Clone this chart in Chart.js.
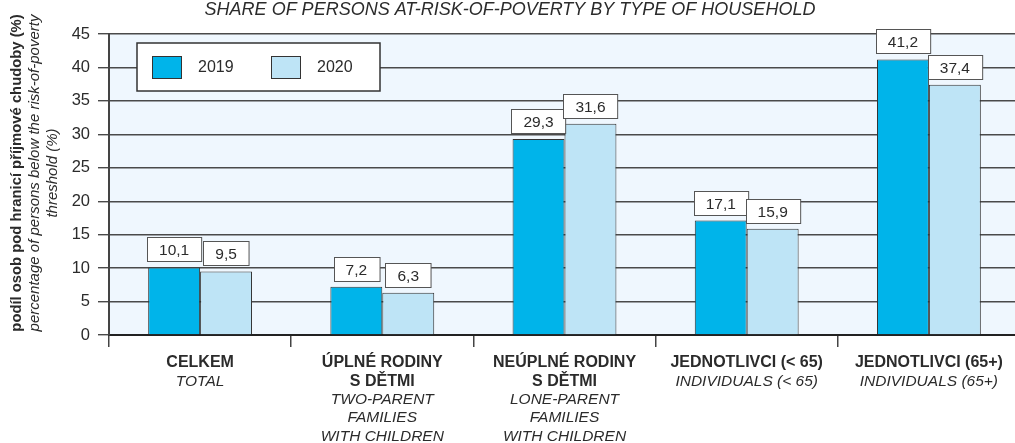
<!DOCTYPE html>
<html>
<head>
<meta charset="utf-8">
<script src="https://cdn.jsdelivr.net/npm/chart.js@4/dist/chart.umd.min.js"></script>
<style>
  html, body { margin: 0; padding: 0; background: #fff; overflow: hidden; }
  #wrap { width: 1020px; height: 443px; position: relative; }
</style>
</head>
<body>
<div id="wrap"><canvas id="chart"></canvas></div>
<script>
// ---- data ----
const categories = ['celkem', 'uplne', 'neuplne', 'jedn_do65', 'jedn_65plus'];
const labelsCz = [
    ['CELKEM'],
    ['ÚPLNÉ RODINY', 'S DĚTMI'],
    ['NEÚPLNÉ RODINY', 'S DĚTMI'],
    ['JEDNOTLIVCI (< 65)'],
    ['JEDNOTLIVCI (65+)']
];
const labelsEn = [
    ['TOTAL'],
    ['TWO-PARENT', 'FAMILIES', 'WITH CHILDREN'],
    ['LONE-PARENT', 'FAMILIES', 'WITH CHILDREN'],
    ['INDIVIDUALS (< 65)'],
    ['INDIVIDUALS (65+)']
];
const values2019 = [10.1, 7.2, 29.3, 17.1, 41.2];
const values2020 = [9.5, 6.3, 31.6, 15.9, 37.4];
const seriesNames = ['2019', '2020'];
const yMin = 0, yMax = 45, yStep = 5;

const chartTitle = 'SHARE OF PERSONS AT-RISK-OF-POVERTY BY TYPE OF HOUSEHOLD';
const yTitleBold = 'podíl osob pod hranicí příjmové chudoby (%)';
const yTitleItalic = ['percentage of persons below the risk-of-poverty', 'threshold (%)'];

const FONT = '"Liberation Sans", Arial, Helvetica, sans-serif';
const INK = '#2b2b2b';
const COLOR_2019 = '#00b4ea';
const COLOR_2020 = '#bee4f6';

function fmt(v) { return v.toFixed(1).replace('.', ','); }

// plot background + title + y title + legend + x labels
const decorPlugin = {
    id: 'decor',
    beforeDraw(chart) {
        const ctx = chart.ctx, a = chart.chartArea;
        ctx.save();
        ctx.fillStyle = '#eff7fe';
        ctx.fillRect(a.left, a.top, a.right - a.left, a.bottom - a.top);
        ctx.restore();
    },
    afterDraw(chart) {
        const ctx = chart.ctx, a = chart.chartArea;
        const xs = chart.scales.x;
        ctx.save();
        ctx.fillStyle = INK;

        // title
        ctx.font = 'italic 18px ' + FONT;
        ctx.textAlign = 'center';
        ctx.textBaseline = 'middle';
        ctx.fillText(chartTitle, 510, 10);

        // y axis title (rotated)
        ctx.save();
        ctx.translate(17, 173);
        ctx.rotate(-Math.PI / 2);
        ctx.font = 'bold 14.8px ' + FONT;
        ctx.fillText(yTitleBold, 0, 0);
        ctx.font = 'italic 15px ' + FONT;
        yTitleItalic.forEach(function (line, i) {
            ctx.fillText(line, 0, 18 * (i + 1));
        });
        ctx.restore();

        // x labels: Czech bold, English italic
        categories.forEach(function (c, i) {
            const x = xs.getPixelForValue(i);
            let y = a.bottom + 28;
            ctx.font = 'bold 16px ' + FONT;
            labelsCz[i].forEach(function (line) { ctx.fillText(line, x, y); y += 18.3; });
            ctx.font = 'italic 15.5px ' + FONT;
            labelsEn[i].forEach(function (line) { ctx.fillText(line, x, y); y += 18.3; });
        });

        // legend box
        const lx = a.left + 28, ly = a.top + 9;
        ctx.fillStyle = '#fff';
        ctx.fillRect(lx, ly, 243, 48);
        ctx.strokeStyle = '#333';
        ctx.lineWidth = 1.5;
        ctx.strokeRect(lx, ly, 243, 48);
        chart.data.datasets.forEach(function (ds, i) {
            const sx = lx + 15 + i * 119;
            ctx.fillStyle = ds.backgroundColor;
            ctx.fillRect(sx, ly + 13, 30, 23);
            ctx.strokeStyle = '#333';
            ctx.lineWidth = 1;
            ctx.strokeRect(sx + 0.5, ly + 13.5, 29, 22);
            ctx.fillStyle = INK;
            ctx.font = '16px ' + FONT;
            ctx.textAlign = 'left';
            ctx.fillText(ds.label, sx + 46, ly + 25);
        });
        ctx.restore();
    }
};

// value boxes above bars
const valueLabelPlugin = {
    id: 'valueLabels',
    afterDatasetsDraw(chart) {
        const ctx = chart.ctx;
        ctx.save();
        ctx.font = '15.5px ' + FONT;
        ctx.textAlign = 'center';
        ctx.textBaseline = 'middle';
        chart.data.datasets.forEach(function (ds, di) {
            chart.getDatasetMeta(di).data.forEach(function (bar, i) {
                const txt = fmt(ds.data[i]);
                const w = ctx.measureText(txt).width + 24;
                const h = 24;
                const bx = Math.round(bar.x - w / 2) + 0.5;
                const by = Math.round(bar.y - 6 - h) + 0.5;
                ctx.fillStyle = '#fff';
                ctx.fillRect(bx, by, w, h);
                ctx.strokeStyle = '#555';
                ctx.lineWidth = 1;
                ctx.strokeRect(bx, by, w, h);
                ctx.fillStyle = INK;
                ctx.fillText(txt, bar.x, by + h / 2 + 1);
            });
        });
        ctx.restore();
    }
};

new Chart(document.getElementById('chart'), {
    type: 'bar',
    data: {
        labels: categories,
        datasets: [
            { label: seriesNames[0], data: values2019, backgroundColor: COLOR_2019, borderColor: '#333', borderWidth: 1 },
            { label: seriesNames[1], data: values2020, backgroundColor: COLOR_2020, borderColor: '#333', borderWidth: 1 }
        ]
    },
    options: {
        responsive: true,
        maintainAspectRatio: false,
        animation: false,
        layout: { padding: { top: 34, right: 0, bottom: 0, left: 0 } },
        datasets: { bar: { categoryPercentage: 0.57, barPercentage: 1.0 } },
        plugins: { legend: { display: false }, title: { display: false }, tooltip: { enabled: false } },
        scales: {
            x: {
                offset: true,
                ticks: { display: false },
                grid: { offset: true, drawOnChartArea: false, drawTicks: true, tickLength: 12, color: '#444', lineWidth: 1.5 },
                border: { color: '#222', width: 2 },
                afterFit: function (scale) { scale.height = 108; }
            },
            y: {
                min: yMin,
                max: yMax,
                ticks: { stepSize: yStep, color: INK, font: { size: 16.5, family: FONT }, padding: 8 },
                grid: { color: '#4a4a4a', lineWidth: 1.4, tickLength: 11 },
                border: { color: '#444', width: 2 },
                afterFit: function (scale) { scale.width = 109; }
            }
        }
    },
    plugins: [decorPlugin, valueLabelPlugin]
});
</script>
</body>
</html>
